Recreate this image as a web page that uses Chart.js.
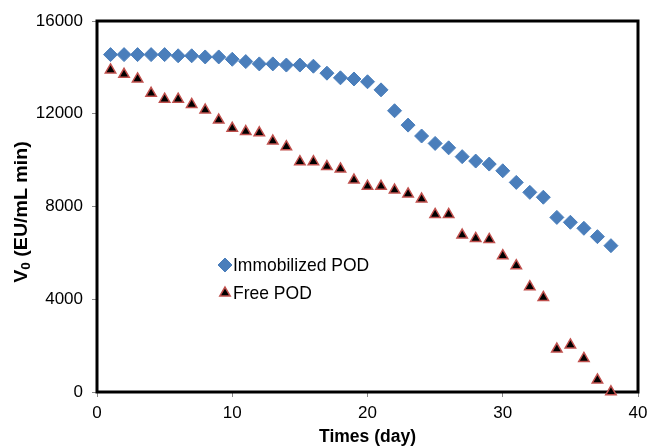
<!DOCTYPE html>
<html>
<head>
<meta charset="UTF-8">
<title>V0 vs time</title>
<script src="https://cdn.jsdelivr.net/npm/chart.js@4"></script>
<style>
  html, body { margin: 0; padding: 0; background: #fff; }
  #wrap { width: 649px; height: 447px; }
</style>
</head>
<body>
<div id="wrap"><canvas id="chart" width="649" height="447"></canvas></div>
<script>
// dias (eixo x)
const days = [1,2,3,4,5,6,7,8,9,10,11,12,13,14,15,16,17,18,19,20,21,22,23,24,25,26,27,28,29,30,31,32,33,34,35,36,37,38];

// atividade V0 (EU/mL min)
const immobilized = [14550,14550,14550,14550,14550,14500,14500,14450,14450,14350,14250,14150,14150,14100,14100,14050,
  13750,13550,13500,13380,13030,12130,11510,11040,10720,10530,10150,9960,9830,9540,9040,8610,8400,7530,7320,7060,6700,6310];
const free = [13890,13700,13500,12880,12630,12630,12400,12160,11730,11370,11230,11180,10820,10580,9930,9930,
  9720,9620,9140,8870,8870,8710,8540,8320,7660,7660,6770,6620,6580,5880,5450,4540,4080,1850,2030,1450,520,10];

const seriesLabels = ['Immobilized POD', 'Free POD'];
const xTicks = [0, 10, 20, 30, 40];
const yTicks = [0, 4000, 8000, 12000, 16000];

const FONT = '"Liberation Sans", Arial, sans-serif';
const BLUE = '#4a7ebb';
const RED = '#c0504d';

// moldura + titulos + legenda desenhados a mao
const decorPlugin = {
  id: 'decor',
  beforeDatasetsDraw(chart) {
    const { ctx, chartArea: a } = chart;
    ctx.save();
    ctx.strokeStyle = '#000';
    ctx.lineWidth = 3;
    ctx.strokeRect(a.left, a.top, a.right - a.left, a.bottom - a.top);
    ctx.restore();
  },
  afterDatasetsDraw(chart) {
    const { ctx, chartArea: a } = chart;
    ctx.save();

    // legenda
    const ds = chart.data.datasets;
    const lx = 225, ly = [265, 293];
    ctx.textBaseline = 'middle';
    ctx.textAlign = 'left';
    ds.forEach((d, i) => {
      ctx.fillStyle = d.pointBackgroundColor;
      ctx.strokeStyle = d.pointBorderColor;
      ctx.lineWidth = d.pointBorderWidth;
      Chart.helpers.drawPoint(ctx, { pointStyle: d.pointStyle, rotation: 0, radius: d.pointRadius, borderWidth: d.pointBorderWidth }, lx, ly[i]);
      ctx.save();
      ctx.translate(lx + 8, ly[i] + 1);
      ctx.scale(1, 1.1);
      ctx.font = '17.5px ' + FONT;
      ctx.fillStyle = '#000';
      ctx.fillText(seriesLabels[i], 0, 0);
      ctx.restore();
    });

    // titulo x
    ctx.fillStyle = '#000';
    ctx.font = 'bold 17.5px ' + FONT;
    ctx.textAlign = 'center';
    ctx.fillText('Times (day)', (a.left + a.right) / 2, 437);

    // titulo y com subscrito
    ctx.translate(22, 212);
    ctx.rotate(-Math.PI / 2);
    ctx.scale(1.12, 1);
    const main = ' (EU/mL min)';
    ctx.font = 'bold 17.5px ' + FONT;
    const wV = ctx.measureText('V').width;
    const wM = ctx.measureText(main).width;
    ctx.font = 'bold 12px ' + FONT;
    const wS = ctx.measureText('0').width;
    let x0 = -(wV + wS + wM) / 2;
    ctx.textAlign = 'left';
    ctx.font = 'bold 17.5px ' + FONT;
    ctx.fillText('V', x0, 0);
    ctx.font = 'bold 12px ' + FONT;
    ctx.fillText('0', x0 + wV, 5);
    ctx.font = 'bold 17.5px ' + FONT;
    ctx.fillText(main, x0 + wV + wS, 0);
    ctx.restore();
  }
};

new Chart(document.getElementById('chart'), {
  type: 'scatter',
  data: {
    datasets: [
      {
        label: seriesLabels[0],
        data: days.map((d, i) => ({ x: d, y: immobilized[i] })),
        pointStyle: 'rectRot',
        pointRadius: 7,
        pointBackgroundColor: BLUE,
        pointBorderColor: BLUE,
        pointBorderWidth: 1,
        showLine: false,
        clip: false
      },
      {
        label: seriesLabels[1],
        data: days.map((d, i) => ({ x: d, y: free[i] })),
        pointStyle: 'triangle',
        pointRadius: 6,
        pointBackgroundColor: '#000',
        pointBorderColor: RED,
        pointBorderWidth: 1.5,
        showLine: false,
        clip: false
      }
    ]
  },
  options: {
    responsive: false,
    animation: false,
    events: [],
    layout: { padding: { top: 21, right: 11, left: 0, bottom: 0 } },
    plugins: { legend: { display: false }, tooltip: { enabled: false } },
    scales: {
      x: {
        type: 'linear',
        min: 0, max: 40,
        afterBuildTicks: s => { s.ticks = xTicks.map(v => ({ value: v })); },
        afterFit: s => { s.height = 55; s.paddingLeft = 0; s.paddingRight = 0; },
        grid: { display: true, drawOnChartArea: false, drawTicks: true, tickLength: 5, color: '#888' },
        border: { display: false },
        ticks: { color: '#000', padding: 6, font: { family: FONT, size: 17 } }
      },
      y: {
        min: 0, max: 16000,
        afterBuildTicks: s => { s.ticks = yTicks.map(v => ({ value: v })); },
        afterFit: s => { s.width = 97; },
        grid: { display: true, drawOnChartArea: false, drawTicks: true, tickLength: 5, color: '#888' },
        border: { display: false },
        ticks: { color: '#000', padding: 9, font: { family: FONT, size: 17 }, callback: v => String(v) }
      }
    }
  },
  plugins: [decorPlugin]
});
</script>
</body>
</html>
